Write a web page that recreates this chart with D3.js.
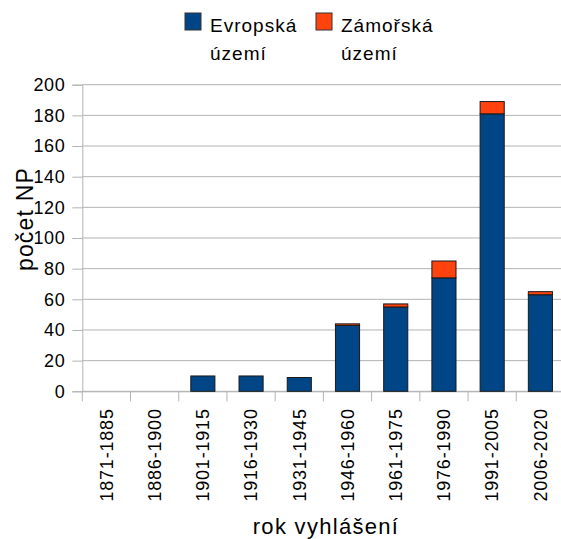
<!DOCTYPE html>
<html><head><meta charset="utf-8">
<script src="https://cdn.jsdelivr.net/npm/d3@7"></script>
<style>body{margin:0;background:#fff}svg{display:block;font-family:"Liberation Sans",Arial,sans-serif}</style>
</head><body><svg id="c" width="561" height="539"></svg>
<script>
const categories = ["1871-1885","1886-1900","1901-1915","1916-1930","1931-1945","1946-1960","1961-1975","1976-1990","1991-2005","2006-2020"];
const evropska = [0,0,10,10,9,43,55,74,181,63];
const zamorska = [0,0,0,0,0,1,2,11,8,2];
const yTicks = [0,20,40,60,80,100,120,140,160,180,200];
const seriesNames = ["Evropská území","Zámořská území"];
const colors = ["#004586","#ff420e"];

const svg = d3.select("#c");
const mLeft = 82.3, mRight = 564.5, mTop = 84.7, mBottom = 391.3;
const x = d3.scaleBand().domain(categories).range([mLeft, mRight]).paddingInner(0.5).paddingOuter(0.25);
const xb = d3.scaleBand().domain(categories).range([mLeft, mRight]);
const y = d3.scaleLinear().domain([0,200]).range([mBottom, mTop]);

// grid
svg.append("g").selectAll("line").data(yTicks).join("line")
  .attr("x1", mLeft).attr("x2", mRight)
  .attr("y1", d=>y(d)).attr("y2", d=>y(d))
  .attr("stroke", "#b3b3b3").attr("stroke-width", 1);

// y axis
const ya = svg.append("g").attr("transform", `translate(${mLeft},0)`)
  .call(d3.axisLeft(y).tickValues(yTicks).tickSize(10).tickPadding(7));
ya.select(".domain").attr("stroke","#b3b3b3");
ya.selectAll(".tick line").attr("stroke","#b3b3b3");
ya.selectAll("text").attr("font-size","18px").attr("fill","#000").attr("font-family","Liberation Sans, Arial, sans-serif").attr("letter-spacing","0.6px");

// x axis
const xa = svg.append("g").attr("transform", `translate(0,${mBottom})`)
  .call(d3.axisBottom(xb).tickSize(0).tickPadding(0));
xa.select(".domain").attr("stroke","#b3b3b3");
xa.selectAll(".tick text").attr("font-size","18px").attr("fill","#000").attr("font-family","Liberation Sans, Arial, sans-serif")
  .attr("letter-spacing","0.8px")
  .attr("transform","rotate(-90)").attr("text-anchor","end").attr("x",-17).attr("y",0).attr("dy","0.35em");
// category boundary ticks
svg.append("g").selectAll("line").data(d3.range(categories.length+1)).join("line")
  .attr("x1", i=>mLeft+i*xb.step()).attr("x2", i=>mLeft+i*xb.step())
  .attr("y1", mBottom).attr("y2", mBottom+10)
  .attr("stroke","#b3b3b3");

// bars
const stackData = categories.map((c,i)=>({cat:c, e:evropska[i], z:zamorska[i]}));
const stacked = d3.stack().keys(["e","z"])(stackData);
svg.append("g").selectAll("g").data(stacked).join("g")
  .attr("fill",(d,i)=>colors[i])
  .selectAll("rect").data(d=>d.filter(v=>v[1]-v[0]>0)).join("rect")
  .attr("x", d=>x(d.data.cat)).attr("width", x.bandwidth())
  .attr("y", d=>y(d[1])).attr("height", d=>y(d[0])-y(d[1]))
  .attr("stroke","#1a1a1a").attr("stroke-width",1);

// titles
svg.append("text").attr("x", 326).attr("y", 534).attr("text-anchor","middle")
  .attr("font-size","22px").attr("letter-spacing","1.3px").text("rok vyhlášení");
svg.append("text").attr("transform","translate(33,219) rotate(-90)").attr("text-anchor","middle")
  .attr("font-size","23px").attr("letter-spacing","1.2px").text("počet NP");

// legend
const lg = svg.append("g");
const lx = [185, 316];
seriesNames.forEach((n,i)=>{
  lg.append("rect").attr("x",lx[i]).attr("y",13).attr("width",16).attr("height",17)
    .attr("fill",colors[i]).attr("stroke","#333");
  const parts = n.split(" ");
  const t = lg.append("text").attr("x",lx[i]+25).attr("y",32).attr("font-size","19px").attr("letter-spacing","1px");
  t.append("tspan").attr("x",lx[i]+25).text(parts[0]);
  t.append("tspan").attr("x",lx[i]+25).attr("dy",28).text(parts[1]);
});
</script></body></html>
